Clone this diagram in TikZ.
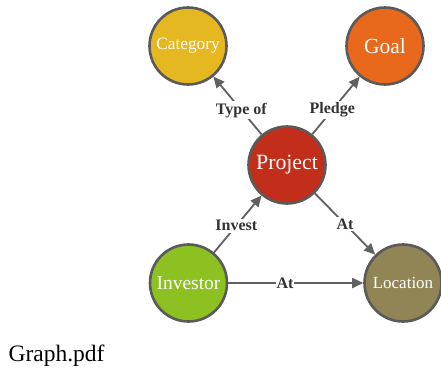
\documentclass[tikz,border=0pt]{standalone}
\usepackage{fontspec}
\setmainfont{Liberation Serif}
\usetikzlibrary{arrows.meta}
\definecolor{edgegray}{HTML}{606060}
\definecolor{bordergray}{HTML}{5A5A5A}
\definecolor{catc}{HTML}{E5B821}
\definecolor{goalc}{HTML}{E8691B}
\definecolor{projc}{HTML}{C22E1A}
\definecolor{invc}{HTML}{8DC021}
\definecolor{locc}{HTML}{918555}
\tikzset{
  entity/.style={circle, draw=bordergray, line width=2.6pt, minimum size=77pt, inner sep=0pt, text=white},
  rel/.style={draw=edgegray, line width=1.8pt, -{Triangle[length=11pt,width=10pt]}},
  rellabel/.style={fill=white, inner sep=1.5pt, text=black!80, font=\bfseries\fontsize{16}{18}\selectfont},
}
\begin{document}
\begin{tikzpicture}[x=1pt,y=-1pt]
\useasboundingbox (0,0) rectangle (441,370);
\node[entity, fill=catc, font=\fontsize{17.3}{19}\selectfont] (cat) at (188,46) {Category};
\node[entity, fill=goalc, font=\fontsize{21.5}{23}\selectfont] (goal) at (385,46) {Goal};
\node[entity, fill=projc, font=\fontsize{21.8}{23}\selectfont] (proj) at (287,165) {Project};
\node[entity, fill=invc, font=\fontsize{19.5}{21}\selectfont] (inv) at (188.5,283) {Investor};
\node[entity, fill=locc, font=\fontsize{17}{19}\selectfont] (loc) at (403,283) {Location};
\draw[rel] (proj) -- node[rellabel, pos=0.42] (l1) {Type of} (cat);
\draw[rel] (proj) -- node[rellabel, pos=0.42] (l2) {Pledge} (goal);
\draw[rel] (inv) -- node[rellabel, pos=0.47] (l3) {Invest} (proj);
\draw[rel] (proj) -- node[rellabel] (l4) {At} (loc);
\draw[rel] (inv) -- node[rellabel, pos=0.42, inner sep=0.3pt] (l5) {At} (loc);
\node[anchor=west, font=\fontsize{23.5}{25}\selectfont] (cap) at (5,356) {Graph.pdf};
\end{tikzpicture}
\end{document}
